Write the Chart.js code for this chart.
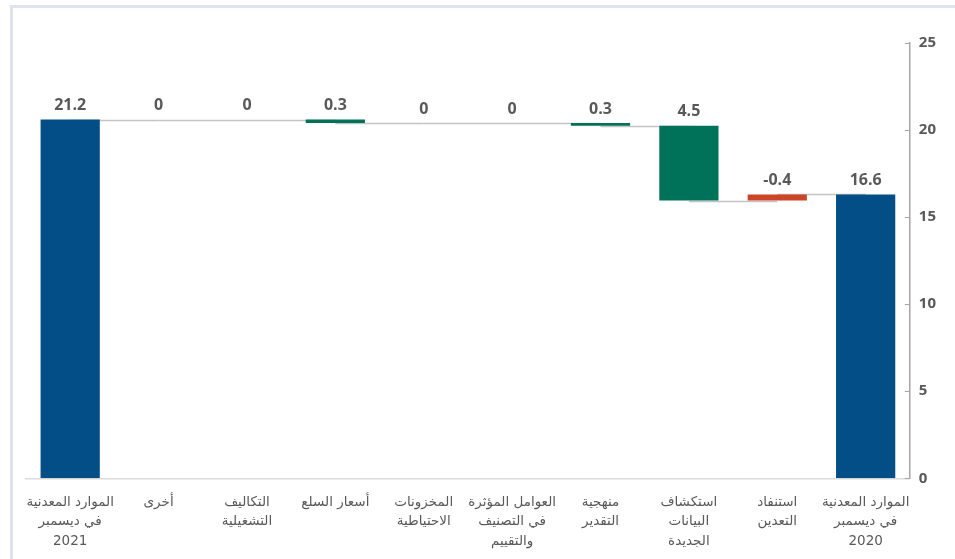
<!DOCTYPE html>
<html lang="ar">
<head>
<meta charset="utf-8">
<script src="https://cdn.jsdelivr.net/npm/chart.js@4"></script>
<style>
  html, body { margin: 0; padding: 0; background: #fff; }
  #wrap { position: relative; width: 955px; height: 559px; }
  #frame { position: absolute; left: 10px; top: 5px; right: 0; bottom: 0;
           border-top: 3px solid #dde3eb; border-left: 3px solid #dde3eb; }
  canvas { position: absolute; left: 0; top: 0; }
</style>
</head>
<body>
<div id="wrap">
  <div id="frame"></div>
  <canvas id="chart" width="955" height="559"></canvas>
</div>
<script>
// categories, left to right (the flow reads right to left)
var categories = [
  ['الموارد المعدنية', 'في ديسمبر', '2021'],
  'أخرى',
  ['التكاليف', 'التشغيلية'],
  'أسعار السلع',
  ['المخزونات', 'الاحتياطية'],
  ['العوامل المؤثرة', 'في التصنيف', 'والتقييم'],
  ['منهجية', 'التقدير'],
  ['استكشاف', 'البيانات', 'الجديدة'],
  ['استنفاد', 'التعدين'],
  ['الموارد المعدنية', 'في ديسمبر', '2020']
];
// printed values
var valueLabels = ['21.2', '0', '0', '0.3', '0', '0', '0.3', '4.5', '-0.4', '16.6'];
// bar extents as drawn in the picture
var barFrom = [0, 20.6, 20.6, 20.4, 20.4, 20.4, 20.25, 15.95, 15.95, 0];
var barTo   = [20.6, 20.6, 20.6, 20.6, 20.4, 20.4, 20.4, 20.25, 16.3, 16.3];
var barKind = ['total', 'up', 'up', 'up', 'up', 'up', 'up', 'up', 'down', 'total'];
var yTicks = [0, 5, 10, 15, 20, 25];

var colors = { total: '#034e86', up: '#00725a', down: '#cc4526' };

var barData = barFrom.map(function(v, i) { return [v, barTo[i]]; });

// connectors, tick marks inside the axis, value labels
var waterfallPlugin = {
  id: 'waterfall',
  beforeDatasetsDraw: function(chart) {
    var ctx = chart.ctx, x = chart.scales.x, y = chart.scales.y;
    ctx.save();
    ctx.strokeStyle = '#c4c4c4';
    ctx.lineWidth = 1.5;
    for (var i = 0; i < barFrom.length - 1; i++) {
      var lvl = [barFrom[i], barTo[i]].find(function(v) {
        return v === barFrom[i + 1] || v === barTo[i + 1];
      });
      var py = Math.round(y.getPixelForValue(lvl)) + 0.5;
      ctx.beginPath();
      ctx.moveTo(x.getPixelForValue(i), py);
      ctx.lineTo(x.getPixelForValue(i + 1), py);
      ctx.stroke();
    }
    ctx.restore();
  },
  afterDatasetsDraw: function(chart) {
    var ctx = chart.ctx, x = chart.scales.x, y = chart.scales.y;
    ctx.save();
    // tick marks
    ctx.strokeStyle = '#a6a6a6';
    ctx.lineWidth = 1;
    yTicks.forEach(function(t) {
      var py = Math.round(y.getPixelForValue(t)) + 0.5;
      ctx.beginPath();
      ctx.moveTo(chart.chartArea.right - 5, py);
      ctx.lineTo(chart.chartArea.right, py);
      ctx.stroke();
    });
    // value labels
    ctx.fillStyle = '#595959';
    ctx.font = 'bold 16px "Open Sans", sans-serif';
    ctx.textAlign = 'center';
    ctx.textBaseline = 'middle';
    valueLabels.forEach(function(lab, i) {
      var top = Math.max(barFrom[i], barTo[i]);
      ctx.fillText(lab, x.getPixelForValue(i), y.getPixelForValue(top) - 14);
    });
    ctx.restore();
  }
};

var ctx = document.getElementById('chart').getContext('2d');
var chart = new Chart(ctx, {
  type: 'bar',
  data: {
    labels: categories,
    datasets: [{
      data: barData,
      backgroundColor: barKind.map(function(k) { return colors[k]; }),
      borderWidth: 0,
      borderSkipped: false,
      barPercentage: 0.67,
      categoryPercentage: 1
    }]
  },
  options: {
    responsive: false,
    animation: false,
    layout: { padding: { left: 26, right: 10, top: 43, bottom: -6 } },
    plugins: {
      legend: { display: false },
      tooltip: { enabled: false }
    },
    scales: {
      x: {
        grid: { display: false, drawTicks: false },
        border: { display: true, color: '#dcdcdc', width: 1.5 },
        ticks: {
          color: '#595959',
          font: { family: '"DejaVu Sans", sans-serif', size: 13.5, lineHeight: 1.45 },
          padding: 14,
          maxRotation: 0,
          autoSkip: false
        }
      },
      y: {
        position: 'right',
        min: 0,
        max: 25,
        afterBuildTicks: function(scale) {
          scale.ticks = yTicks.map(function(v) { return { value: v }; });
        },
        grid: { display: false, drawTicks: false },
        border: { display: true, color: '#a6a6a6', width: 1.5 },
        ticks: {
          color: '#595959',
          font: { family: '"Open Sans", sans-serif', size: 15, weight: 'bold' },
          padding: 9
        }
      }
    }
  },
  plugins: [waterfallPlugin]
});
</script>
</body>
</html>
